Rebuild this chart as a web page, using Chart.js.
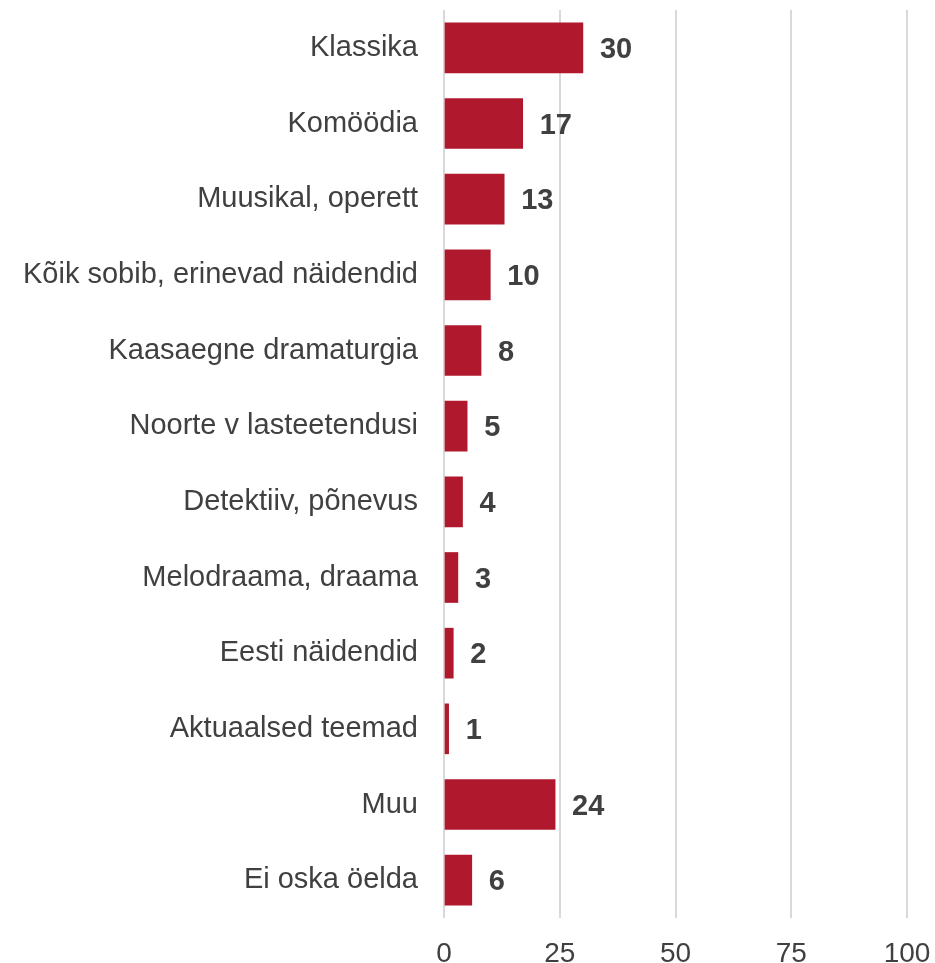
<!DOCTYPE html>
<html>
<head>
<meta charset="utf-8">
<script src="https://cdn.jsdelivr.net/npm/chart.js@4/dist/chart.umd.min.js"></script>
<style>
  html, body { margin: 0; padding: 0; background: #fff; }
  #wrap { width: 935px; height: 963px; }
</style>
</head>
<body>
<div id="wrap"><canvas id="myChart"></canvas></div>
<script>
const categories = [
    'Klassika',
    'Komöödia',
    'Muusikal, operett',
    'Kõik sobib, erinevad näidendid',
    'Kaasaegne dramaturgia',
    'Noorte v lasteetendusi',
    'Detektiiv, põnevus',
    'Melodraama, draama',
    'Eesti näidendid',
    'Aktuaalsed teemad',
    'Muu',
    'Ei oska öelda'
];
const values = [30, 17, 13, 10, 8, 5, 4, 3, 2, 1, 24, 6];
const xTicks = [0, 25, 50, 75, 100];

const textColor = '#404040';
const barColor = '#B0182E';
const fontFamily = '"Liberation Sans", Arial, sans-serif';

// writes the number next to the end of each bar
const valueLabels = {
    id: 'valueLabels',
    afterDatasetsDraw(chart) {
        const ctx = chart.ctx;
        const meta = chart.getDatasetMeta(0);
        ctx.save();
        ctx.font = 'bold 29px ' + fontFamily;
        ctx.fillStyle = textColor;
        ctx.textAlign = 'left';
        ctx.textBaseline = 'middle';
        meta.data.forEach((bar, i) => {
            ctx.fillText(String(values[i]), bar.x + 17, bar.y + 2);
        });
        ctx.restore();
    }
};

const ctx = document.getElementById('myChart').getContext('2d');

const chart = new Chart(ctx, {
    type: 'bar',
    data: {
        labels: categories,
        datasets: [{
            data: values,
            backgroundColor: barColor,
            barThickness: 50,
        }],
    },
    options: {
        indexAxis: 'y',
        responsive: true,
        maintainAspectRatio: false,
        animation: false,
        layout: { padding: { top: 10, right: 28, left: 0, bottom: 0 } },
        plugins: {
            legend: { display: false },
            tooltip: { enabled: false },
        },
        scales: {
            x: {
                min: 0,
                max: 100,
                afterBuildTicks: (scale) => {
                    scale.ticks = xTicks.map((v) => ({ value: v }));
                },
                afterFit: (scale) => {
                    scale.height = 45;
                    scale.paddingLeft = 0;
                    scale.paddingRight = 0;
                },
                grid: {
                    color: '#d9d9d9',
                    lineWidth: 2,
                    drawTicks: false,
                },
                border: { display: false },
                ticks: {
                    padding: 19,
                    color: textColor,
                    font: { family: fontFamily, size: 28 },
                },
            },
            y: {
                afterFit: (scale) => {
                    scale.width = 444;
                    scale.paddingTop = 0;
                    scale.paddingBottom = 0;
                },
                grid: { display: false, drawTicks: false },
                border: { display: false },
                ticks: {
                    padding: 26,
                    color: textColor,
                    font: { family: fontFamily, size: 29 },
                },
            },
        },
    },
    plugins: [valueLabels],
});
</script>
</body>
</html>
